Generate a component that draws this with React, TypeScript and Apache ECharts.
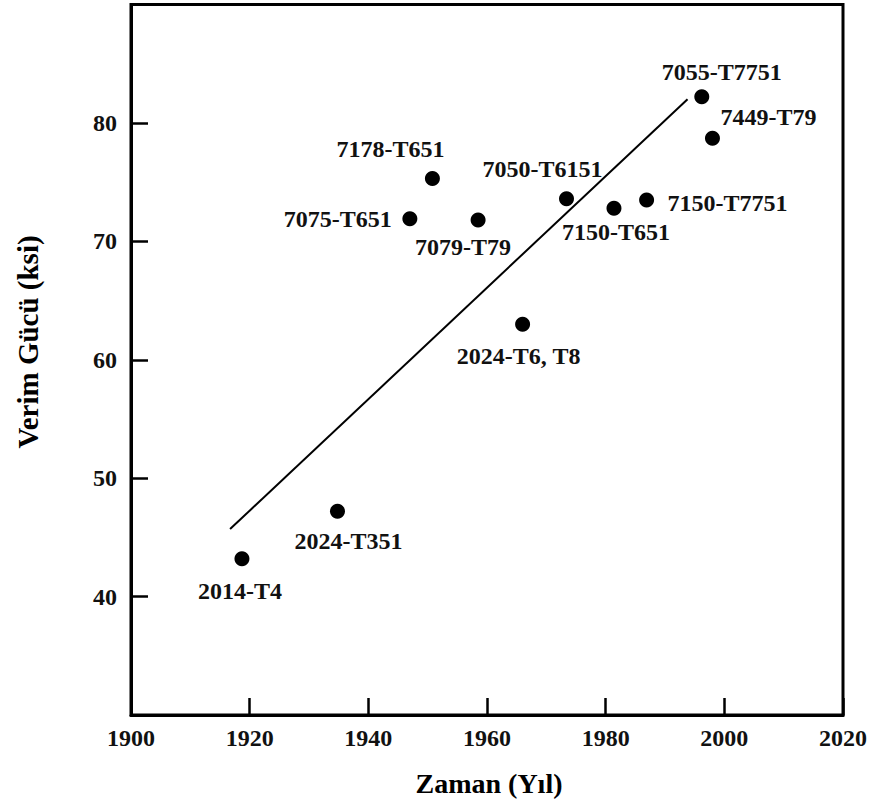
import React, { useEffect, useRef } from "react";
import * as echarts from "echarts";

// ---- Data ----
const materials = [
  "2014-T4",
  "2024-T351",
  "7075-T651",
  "7178-T651",
  "7079-T79",
  "2024-T6, T8",
  "7050-T6151",
  "7150-T651",
  "7150-T7751",
  "7055-T7751",
  "7449-T79",
];
const years = [1918.7, 1934.8, 1947.0, 1950.8, 1958.5, 1966.0, 1973.4, 1981.4, 1986.9, 1996.2, 1998.0];
const yieldKsi = [43.2, 47.2, 71.9, 75.3, 71.8, 63.0, 73.6, 72.8, 73.5, 82.2, 78.7];

// trend line end points
const trendYears = [1916.7, 1993.8];
const trendKsi = [45.7, 82.0];

const xTicks = [1900, 1920, 1940, 1960, 1980, 2000, 2020];
const yTicks = [40, 50, 60, 70, 80];

const X_TITLE = "Zaman (Yıl)";
const Y_TITLE = "Verim Gücü (ksi)";

// ---- Label placement (style only) ----
const labelPlacement: Record<string, { dx: number; dy: number; align: string }> = {
  "2014-T4": { dx: -2, dy: 32, align: "center" },
  "2024-T351": { dx: 11, dy: 30, align: "center" },
  "7075-T651": { dx: -18, dy: 0, align: "right" },
  "7178-T651": { dx: -42, dy: -30, align: "center" },
  "7079-T79": { dx: -15, dy: 27, align: "center" },
  "2024-T6, T8": { dx: -4, dy: 32, align: "center" },
  "7050-T6151": { dx: -24, dy: -30, align: "center" },
  "7150-T651": { dx: 2, dy: 24, align: "center" },
  "7150-T7751": { dx: 21, dy: 3, align: "left" },
  "7055-T7751": { dx: 20, dy: -25, align: "center" },
  "7449-T79": { dx: 8, dy: -21, align: "left" },
};

const FONT = "'Liberation Serif', 'Times New Roman', serif";
const SYM = 15;
const TEXT = "#111111";

export default function App() {
  const ref = useRef<HTMLDivElement>(null);
  useEffect(() => {
    document.body.style.margin = "0";
    if (!ref.current) return;
    const chart = echarts.init(ref.current, undefined, { renderer: "svg" });
    const scatterData = years.map((y, i) => {
      const p = labelPlacement[materials[i]];
      return {
        name: materials[i],
        value: [y, yieldKsi[i]],
        label: {
          position: [SYM / 2 + p.dx, SYM / 2 + p.dy],
          align: p.align,
          verticalAlign: "middle",
        },
      };
    });
    chart.setOption({
      animation: false,
      backgroundColor: "#ffffff",
      grid: {
        left: 131,
        right: 29,
        top: 4.5,
        bottom: 88,
        show: true,
        borderColor: "#000",
        borderWidth: 3,
        backgroundColor: "transparent",
      },
      xAxis: {
        type: "value",
        min: 1900,
        max: 2020,
        interval: 20,
        axisLine: { show: true, lineStyle: { color: "#000", width: 3 } },
        axisTick: { show: true, inside: true, length: 17, lineStyle: { color: "#000", width: 2.5 } },
        splitLine: { show: false },
        axisLabel: {
          margin: 11,
          color: TEXT,
          fontFamily: FONT,
          fontWeight: "bold",
          fontSize: 24,
          formatter: (v: number) => (xTicks.includes(v) ? String(v) : ""),
        },
      },
      yAxis: {
        type: "value",
        min: 30,
        max: 90,
        interval: 10,
        axisLine: { show: true, lineStyle: { color: "#000", width: 3 } },
        axisTick: { show: true, inside: true, length: 17, lineStyle: { color: "#000", width: 2.5 } },
        splitLine: { show: false },
        axisLabel: {
          margin: 14,
          color: TEXT,
          fontFamily: FONT,
          fontWeight: "bold",
          fontSize: 24,
          formatter: (v: number) => (yTicks.includes(v) ? String(v) : ""),
        },
      },
      graphic: [
        {
          type: "text",
          x: 489,
          y: 783,
          style: {
            text: X_TITLE,
            fill: "#000",
            font: `bold 28px ${FONT}`,
            textAlign: "center",
            textVerticalAlign: "middle",
          },
        },
        {
          type: "text",
          x: 27.5,
          y: 342,
          rotation: Math.PI / 2,
          style: {
            text: Y_TITLE,
            fill: "#000",
            font: `bold 29px ${FONT}`,
            textAlign: "center",
            textVerticalAlign: "middle",
          },
        },
      ],
      series: [
        {
          type: "line",
          data: trendYears.map((y, i) => [y, trendKsi[i]]),
          symbol: "none",
          lineStyle: { color: "#000", width: 2 },
          z: 2,
          silent: true,
        },
        {
          type: "scatter",
          data: scatterData,
          symbol: "circle",
          symbolSize: SYM,
          itemStyle: { color: "#000", opacity: 1 },
          z: 3,
          label: {
            show: true,
            formatter: "{b}",
            color: TEXT,
            opacity: 1,
            fontFamily: FONT,
            fontWeight: "bold",
            fontSize: 24,
          },
        },
      ],
    });
    return () => chart.dispose();
  }, []);
  return <div ref={ref} style={{ width: 872, height: 803 }} />;
}
